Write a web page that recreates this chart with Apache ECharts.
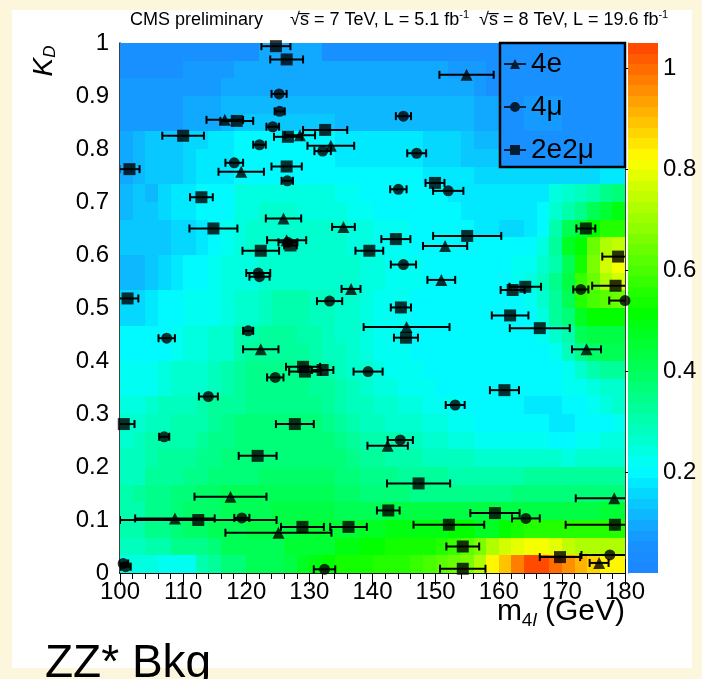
<!DOCTYPE html>
<html>
<head>
<meta charset="utf-8">
<script src="https://cdn.jsdelivr.net/npm/echarts@6/dist/echarts.min.js"></script>
<style>
  html, body { margin: 0; padding: 0; background: #fbf6dc; }
  #chart { width: 702px; height: 679px; }
</style>
</head>
<body>
<div id="chart"></div>
<script>
const FONT = '"Liberation Sans", Arial, Helvetica, sans-serif';

// ---- candidate events: four-lepton mass (GeV), K_D and mass uncertainty (GeV) ----
const e4Mass = [154.9, 116.6, 128.5, 133.4, 119.2, 125.9, 135.4, 126.4, 151.5, 150.9, 136.6, 145.4, 122.3, 173.9, 142.4, 117.5, 178.3, 108.7, 125.1, 175.9];
const e4KD   = [0.940, 0.855, 0.826, 0.806, 0.757, 0.669, 0.653, 0.628, 0.617, 0.553, 0.536, 0.464, 0.422, 0.422, 0.240, 0.144, 0.141, 0.103, 0.076, 0.019];
const e4Err  = [4.3, 2.9, 2.4, 3.7, 3.6, 2.8, 1.8, 3.1, 3.5, 2.2, 1.5, 6.8, 2.8, 2.3, 3.2, 5.7, 6.1, 6.3, 8.4, 1.5];

const mu4Mass = [125.2, 125.3, 124.2, 144.9, 122.1, 132.1, 147.0, 118.1, 126.5, 144.1, 152.0, 126.6, 144.9, 121.9, 122.1, 173.0, 133.2, 180.0, 120.3, 107.4, 139.3, 124.6, 114.0, 153.1, 107.0, 144.4, 119.3, 164.3, 177.6, 100.5, 100.9, 132.4];
const mu4KD   = [0.904, 0.871, 0.842, 0.862, 0.808, 0.796, 0.792, 0.774, 0.740, 0.724, 0.721, 0.624, 0.582, 0.566, 0.559, 0.535, 0.513, 0.514, 0.457, 0.443, 0.380, 0.369, 0.333, 0.317, 0.257, 0.251, 0.104, 0.103, 0.034, 0.018, 0.012, 0.007];
const mu4Err  = [1.2, 0.8, 1.0, 1.2, 1.0, 1.3, 1.5, 1.4, 0.9, 1.3, 2.4, 1.5, 2.0, 1.9, 1.6, 1.2, 2.0, 2.5, 0.8, 1.3, 2.3, 1.3, 1.5, 1.5, 0.8, 2.0, 1.2, 2.2, 4.5, 0.8, 0.8, 1.7];

const e2mu2Mass = [124.7, 126.4, 118.5, 110.0, 126.6, 132.5, 101.5, 126.4, 149.9, 112.9, 114.8, 173.8, 155.0, 143.7, 127.0, 139.5, 122.3, 178.9, 162.2, 164.2, 178.5, 101.2, 144.5, 161.8, 166.5, 145.3, 129.0, 129.3, 132.1, 160.9, 100.6, 127.7, 121.8, 147.3, 142.5, 159.4, 112.4, 128.9, 136.2, 152.1, 178.4, 154.3, 169.7, 154.3];
const e2mu2KD   = [0.994, 0.969, 0.853, 0.825, 0.823, 0.836, 0.762, 0.767, 0.736, 0.709, 0.650, 0.650, 0.636, 0.630, 0.618, 0.608, 0.608, 0.597, 0.534, 0.540, 0.542, 0.518, 0.501, 0.486, 0.462, 0.444, 0.389, 0.380, 0.383, 0.345, 0.281, 0.281, 0.221, 0.169, 0.118, 0.113, 0.100, 0.087, 0.087, 0.091, 0.091, 0.050, 0.030, 0.008];
const e2mu2Err  = [2.3, 2.6, 2.6, 3.3, 2.2, 3.5, 1.6, 2.4, 1.5, 1.8, 3.8, 1.5, 5.4, 2.3, 1.0, 2.2, 2.9, 2.5, 1.9, 2.5, 3.7, 1.7, 1.6, 2.9, 4.75, 1.9, 2.7, 2.5, 1.7, 2.3, 1.7, 3.0, 3.0, 5.0, 1.8, 3.9, 12.4, 3.4, 2.9, 5.6, 7.8, 2.6, 3.2, 3.6];

// ---- ZZ* background template: 40 mass bins x 30 K_D bins, values x100, rows from K_D = 1 down to 0 ----
const MASS_MIN = 100, MASS_MAX = 180, MASS_BIN = 2;
const KD_BIN = 1 / 30;
const HEAT_ROWS = [
  "05 05 05 05 05 05 05 05 05 05 05 09 09 09 09 09 05 05 05 05 05 05 05 05 05 05 05 05 05 05 05 05 05 05 05 05 05 05 05 05",
  "06 06 06 06 06 07 07 07 08 09 09 10 10 10 10 10 10 09 09 09 09 09 09 09 09 09 08 08 07 06 05 05 05 05 05 05 05 05 05 05",
  "07 07 07 07 07 07 07 07 09 10 10 10 10 10 10 10 10 10 10 10 10 10 10 10 10 10 09 09 08 06 05 05 05 05 05 05 05 05 05 05",
  "07 07 07 07 07 09 10 10 12 12 12 12 12 12 12 12 12 12 12 12 12 12 12 12 11 11 11 11 09 09 05 05 07 07 07 05 05 05 05 05",
  "07 07 07 07 07 10 10 10 12 13 13 13 13 13 13 13 13 12 12 12 12 12 12 12 12 12 12 12 10 10 05 05 07 07 07 05 05 05 05 05",
  "10 12 13 14 14 15 16 17 18 19 20 20 20 20 20 20 19 18 17 17 17 17 17 17 15 15 15 13 12 12 05 05 05 05 05 05 05 05 05 05",
  "10 12 14 14 14 16 17 17 18 20 21 21 21 21 21 21 20 18 17 17 17 17 17 17 15 15 15 13 13 13 05 05 05 05 05 05 05 05 05 05",
  "10 12 14 14 14 16 17 17 18 20 21 21 21 21 21 21 21 20 20 20 20 20 19 19 18 18 17 17 16 16 15 15 15 15 15 15 16 16 18 18",
  "12 13 12 16 17 17 19 20 21 24 25 25 25 25 24 24 24 23 22 21 21 20 20 20 19 19 18 18 18 17 17 17 17 18 24 26 29 31 34 36",
  "12 13 14 16 17 17 19 20 21 24 25 26 26 26 25 25 25 24 23 22 21 21 21 20 20 19 19 18 18 17 17 17 18 20 26 30 35 40 46 50",
  "13 13 13 13 15 16 18 20 22 25 26 26 26 26 26 26 26 26 25 24 23 22 22 21 21 20 20 19 18 17 16 15 17 20 30 40 45 52 55 56",
  "13 13 13 13 15 16 18 20 22 25 26 26 26 26 26 26 26 26 25 24 23 22 22 21 21 20 20 19 19 19 19 19 21 24 33 48 52 64 72 75",
  "12 12 13 15 17 20 21 22 24 25 25 26 27 27 27 27 27 27 26 25 24 23 22 22 21 21 21 20 20 20 21 22 23 26 30 40 54 66 76 80",
  "12 12 14 16 18 20 21 22 24 25 25 26 27 27 27 27 27 27 26 25 24 23 22 22 21 21 21 20 20 20 21 22 24 28 34 44 58 64 72 76",
  "15 15 18 19 21 22 22 22 25 26 27 29 30 30 30 28 28 27 26 25 23 22 22 21 21 20 20 20 19 19 20 20 22 26 32 40 56 60 62 64",
  "15 15 18 19 21 22 22 22 25 26 27 29 30 30 30 28 28 27 26 25 23 22 22 21 21 20 20 20 19 19 19 19 21 24 32 36 48 52 52 52",
  "20 20 20 21 22 24 24 26 27 30 31 32 32 32 31 30 29 27 26 25 23 22 22 21 21 20 20 20 19 19 19 19 20 22 26 30 40 44 44 44",
  "20 20 20 21 22 24 24 26 27 30 32 32 32 32 32 30 29 28 26 25 23 22 22 21 21 20 20 19 19 19 19 19 20 21 23 28 34 38 40 40",
  "23 23 23 25 26 26 27 29 30 33 34 34 35 35 34 33 31 29 27 26 24 23 22 22 21 20 20 19 19 19 19 19 19 20 21 23 27 31 32 32",
  "23 23 23 25 26 26 27 29 30 33 34 35 35 35 35 33 32 30 28 27 25 24 23 22 22 21 20 19 19 19 19 19 19 20 21 22 23 25 27 27",
  "25 25 26 28 29 29 30 32 32 33 35 35 35 35 35 34 33 31 29 28 27 26 25 24 23 22 22 21 20 20 19 19 18 18 18 19 21 23 25 26",
  "26 27 29 29 30 30 31 33 35 36 36 37 37 37 37 36 35 33 31 29 28 27 27 26 25 24 23 22 21 21 20 20 19 19 18 18 19 20 21 22",
  "27 28 30 30 31 31 32 34 35 36 37 37 37 37 37 37 36 34 32 31 30 30 29 28 27 26 25 24 23 23 23 22 22 22 21 20 22 23 24 25",
  "29 29 31 32 33 33 34 34 36 36 36 37 37 37 37 37 37 36 35 33 32 31 30 30 29 28 28 28 27 27 27 27 27 27 26 24 26 27 27 27",
  "29 29 32 33 33 34 34 36 36 36 37 38 38 38 38 38 38 37 36 35 34 34 33 33 32 32 31 31 31 31 31 31 32 32 32 32 32 32 32 32",
  "30 32 35 35 36 37 38 38 40 40 42 42 42 42 42 42 40 38 38 37 36 36 36 35 35 35 34 34 34 35 35 36 36 36 36 36 36 36 36 36",
  "30 30 35 35 36 38 38 38 40 42 42 42 44 44 44 44 44 42 42 42 42 43 43 43 44 44 44 44 44 44 43 43 43 43 43 43 44 44 45 45",
  "30 30 34 34 36 38 38 40 42 42 43 43 44 44 46 46 46 46 46 48 48 50 50 50 50 50 52 52 48 48 52 54 55 55 56 56 56 56 56 56",
  "28 28 30 30 34 34 34 36 40 40 40 40 42 46 46 46 46 50 50 52 52 54 54 54 54 56 58 62 66 72 76 78 80 80 78 74 72 72 72 72",
  "24 24 24 22 22 22 30 32 36 36 40 42 42 44 48 50 52 54 54 54 56 56 56 58 60 62 64 66 72 82 90 97 103 103 99 95 92 87 84 84"
];

// ---- colour scale ----
const Z_MIN = 0, Z_MAX = 1.05, Z_LEVELS = 50;
const CBAR_LABELS = [0.2, 0.4, 0.6, 0.8, 1];

function paletteColor(z) {
  const step = (Z_MAX - Z_MIN) / Z_LEVELS;
  let k = Math.floor((z - Z_MIN) / step);
  k = Math.max(0, Math.min(Z_LEVELS - 1, k));
  const zc = Z_MIN + (k + 0.5) * step;
  const hue = zc < 0.06 ? 212 - 60 * zc : 220 - 195 * zc;
  const light = hue > 185 ? 50 + (hue - 185) * 0.2 : 50;
  return 'hsl(' + hue.toFixed(1) + ',100%,' + light.toFixed(1) + '%)';
}

const heatData = [];
HEAT_ROWS.forEach((row, r) => {
  const j = HEAT_ROWS.length - 1 - r;
  row.trim().split(/\s+/).forEach((v, i) => {
    heatData.push([MASS_MIN + i * MASS_BIN, j * KD_BIN, Number(v) / 100]);
  });
});

const cbarData = [];
for (let k = 0; k < Z_LEVELS; k++) {
  const s = (Z_MAX - Z_MIN) / Z_LEVELS;
  cbarData.push([0, Z_MIN + k * s, Z_MIN + (k + 1) * s]);
}

function zip(m, kd, err) { return m.map((v, i) => [v, kd[i], err[i]]); }

function renderHeat(params, api) {
  const x0 = api.value(0), y0 = api.value(1), z = api.value(2);
  const a = api.coord([x0, y0 + KD_BIN]);
  const b = api.coord([x0 + MASS_BIN, y0]);
  const x = Math.round(a[0]), y = Math.round(a[1]);
  return {
    type: 'rect',
    shape: { x: x, y: y, width: Math.round(b[0]) - x, height: Math.round(b[1]) - y },
    style: { fill: paletteColor(z) }
  };
}

function renderCbar(params, api) {
  const y0 = api.value(1), y1 = api.value(2);
  const a = api.coord([0, y1]);
  const b = api.coord([1, y0]);
  const y = Math.round(a[1]);
  return {
    type: 'rect',
    shape: { x: a[0], y: y, width: b[0] - a[0], height: Math.round(b[1]) - y },
    style: { fill: paletteColor((y0 + y1) / 2) }
  };
}

function renderErr(params, api) {
  const x = api.value(0), y = api.value(1), e = api.value(2);
  const a = api.coord([x - e, y]);
  const b = api.coord([x + e, y]);
  const st = { stroke: '#000', lineWidth: 2 };
  return {
    type: 'group',
    children: [
      { type: 'line', shape: { x1: a[0], y1: a[1], x2: b[0], y2: b[1] }, style: st },
      { type: 'line', shape: { x1: a[0], y1: a[1] - 4, x2: a[0], y2: a[1] + 4 }, style: st },
      { type: 'line', shape: { x1: b[0], y1: b[1] - 4, x2: b[0], y2: b[1] + 4 }, style: st }
    ]
  };
}

function errSeries(name, data) {
  return {
    type: 'custom', name: name + ' err', xAxisIndex: 0, yAxisIndex: 0,
    renderItem: renderErr, data: data, clip: true, z: 4, silent: true,
    encode: { x: 0, y: 1 }
  };
}
function markSeries(name, data, symbol, size) {
  return {
    type: 'scatter', name: name, xAxisIndex: 0, yAxisIndex: 0,
    data: data.map(d => [d[0], d[1]]), symbol: symbol, symbolSize: size,
    itemStyle: { color: '#000' }, clip: false, z: 5, silent: true
  };
}

const tickStyle = { color: '#000', width: 1 };
function frameAxis(extra) {
  return Object.assign({
    type: 'value',
    gridIndex: 0,
    axisLine: { show: true, lineStyle: { color: '#000', width: 1.5 } },
    splitLine: { show: false },
    minorSplitLine: { show: false }
  }, extra);
}

const e4 = zip(e4Mass, e4KD, e4Err);
const mu4 = zip(mu4Mass, mu4KD, mu4Err);
const e2mu2 = zip(e2mu2Mass, e2mu2KD, e2mu2Err);

const chart = echarts.init(document.getElementById('chart'), null, { renderer: 'canvas' });
chart.setOption({
  animation: false,
  backgroundColor: '#fbf6dc',
  grid: [
    { left: 120, top: 43, width: 505, height: 530 },
    { left: 628, top: 43, width: 30, height: 530 }
  ],
  xAxis: [
    frameAxis({
      position: 'bottom', min: MASS_MIN, max: MASS_MAX, interval: 10,
      axisTick: { show: true, inside: true, length: 14, lineStyle: tickStyle },
      minorTick: { show: true, splitNumber: 5, length: 7, lineStyle: tickStyle },
      axisLabel: { show: true, color: '#000', fontSize: 24, fontFamily: FONT, margin: 7 }
    }),
    frameAxis({
      position: 'top', min: MASS_MIN, max: MASS_MAX, interval: 10,
      axisTick: { show: true, inside: true, length: 12, lineStyle: tickStyle },
      minorTick: { show: true, splitNumber: 5, length: 6, lineStyle: tickStyle },
      axisLabel: { show: false }
    }),
    { type: 'value', gridIndex: 1, min: 0, max: 1, show: false }
  ],
  yAxis: [
    frameAxis({
      position: 'left', min: 0, max: 1, interval: 0.1,
      axisTick: { show: true, inside: true, length: 15, lineStyle: tickStyle },
      minorTick: { show: true, splitNumber: 5, length: 8, lineStyle: tickStyle },
      axisLabel: {
        show: true, color: '#000', fontSize: 24, fontFamily: FONT, margin: 11,
        formatter: v => { const r = Math.round(v * 10) / 10; return r === 0 ? '0' : r === 1 ? '1' : r.toFixed(1); }
      }
    }),
    frameAxis({
      position: 'right', min: 0, max: 1, interval: 0.1,
      axisTick: { show: true, inside: true, length: 15, lineStyle: tickStyle },
      minorTick: { show: true, splitNumber: 5, length: 8, lineStyle: tickStyle },
      axisLabel: { show: false }
    }),
    {
      type: 'value', gridIndex: 1, position: 'right', min: Z_MIN, max: Z_MAX, interval: 0.2,
      axisLine: { show: true, lineStyle: { color: '#555', width: 1 } },
      splitLine: { show: false },
      axisTick: { show: true, inside: true, length: 17, lineStyle: tickStyle, customValues: CBAR_LABELS },
      axisLabel: {
        show: true, color: '#000', fontSize: 24, fontFamily: FONT, margin: 5, customValues: CBAR_LABELS,
        formatter: v => { const r = Math.round(v * 10) / 10; return r === 0 ? '' : r === 1 ? '1' : r.toFixed(1); }
      }
    }
  ],
  legend: {
    data: [
      { name: '4e', icon: 'path://M0 6 H22 V8 H0 Z M6 12 L11 2 L16 12 Z' },
      { name: '4μ', icon: 'path://M0 6 H22 V8 H0 Z M16 7 A5 5 0 1 1 6 7 A5 5 0 1 1 16 7 Z' },
      { name: '2e2μ', icon: 'path://M0 6 H22 V8 H0 Z M6 2 H16 V12 H6 Z' }
    ],
    orient: 'vertical', left: 504, top: 50, itemWidth: 22, itemHeight: 14, itemGap: 15, padding: 0,
    selectedMode: false,
    textStyle: { fontSize: 28, color: '#000', fontFamily: FONT }
  },
  graphic: [
    { type: 'rect', z: -1, shape: { x: 12, y: 10, width: 680, height: 658 }, style: { fill: '#ffffff' } },
    { type: 'rect', z: 50, shape: { x: 500, y: 43, width: 125, height: 124 }, style: { fill: 'none', stroke: '#000', lineWidth: 2.5 } },
    {
      type: 'text', z: 50, x: 130, y: 20,
      style: { text: 'CMS preliminary', font: '18px ' + FONT, fill: '#000', verticalAlign: 'middle' }
    },
    {
      type: 'text', z: 50, x: 290, y: 20,
      style: {
        text: '{n|√s̅ = 7 TeV, L = 5.1 fb}{p|-1}{n|  √s̅ = 8 TeV, L = 19.6 fb}{p|-1}',
        verticalAlign: 'middle', fill: '#000',
        rich: {
          n: { fontSize: 18, fontFamily: FONT, lineHeight: 22, verticalAlign: 'middle', fill: '#000' },
          p: { fontSize: 11, fontFamily: FONT, lineHeight: 11, verticalAlign: 'top', fill: '#000' }
        }
      }
    },
    {
      type: 'text', z: 50, x: 44, y: 61, rotation: Math.PI / 2,
      style: {
        text: '{k|K}{d|D}', align: 'center', verticalAlign: 'middle', fill: '#000',
        rich: {
          k: { fontSize: 28, fontStyle: 'italic', fontFamily: FONT, lineHeight: 30, verticalAlign: 'middle', fill: '#000' },
          d: { fontSize: 17, fontStyle: 'italic', fontFamily: FONT, lineHeight: 17, verticalAlign: 'bottom', fill: '#000' }
        }
      }
    },
    {
      type: 'text', z: 50, x: 625, y: 612,
      style: {
        text: '{a|m}{s|4}{si|l}{a| (GeV)}', align: 'right', verticalAlign: 'middle', fill: '#000',
        rich: {
          a: { fontSize: 30, fontFamily: FONT, lineHeight: 36, verticalAlign: 'middle', fill: '#000' },
          s: { fontSize: 19, fontFamily: FONT, lineHeight: 19, verticalAlign: 'bottom', fill: '#000' },
          si: { fontSize: 19, fontStyle: 'italic', fontFamily: FONT, lineHeight: 19, verticalAlign: 'bottom', fill: '#000' }
        }
      }
    },
    {
      type: 'text', z: 50, x: 45, y: 687,
      style: { text: 'ZZ* Bkg', font: '46px ' + FONT, fill: '#000', verticalAlign: 'bottom' }
    }
  ],
  series: [
    {
      type: 'custom', name: 'template', xAxisIndex: 0, yAxisIndex: 0,
      renderItem: renderHeat, data: heatData, clip: true, z: 1, silent: true,
      encode: { x: 0, y: 1 }
    },
    {
      type: 'custom', name: 'scale', xAxisIndex: 2, yAxisIndex: 2,
      renderItem: renderCbar, data: cbarData, clip: true, z: 1, silent: true,
      encode: { x: 0, y: [1, 2] }
    },
    errSeries('4e', e4),
    errSeries('4μ', mu4),
    errSeries('2e2μ', e2mu2),
    markSeries('4e', e4, 'triangle', 12),
    markSeries('4μ', mu4, 'circle', 11),
    markSeries('2e2μ', e2mu2, 'rect', 12)
  ]
});
</script>
</body>
</html>
